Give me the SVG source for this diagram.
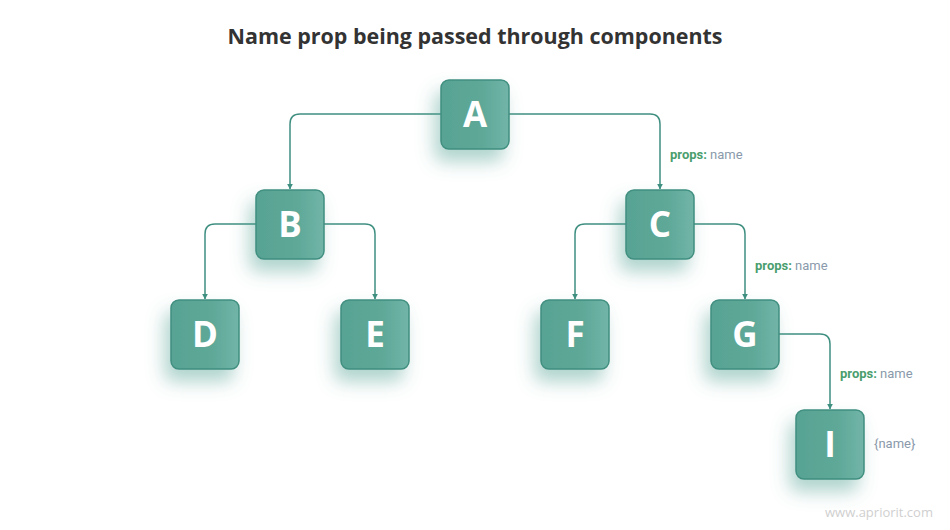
<svg xmlns="http://www.w3.org/2000/svg" width="950" height="530" viewBox="0 0 950 530">
<style>
.title{font-family:"Open Sans","DejaVu Sans",sans-serif;font-weight:700;font-size:21px;fill:#333333}
.box{fill:url(#g);stroke:#3f8f80;stroke-width:1.5;filter:url(#sh)}
.lt{font-family:"Open Sans","DejaVu Sans",sans-serif;font-weight:700;font-size:35px;fill:#ffffff;text-anchor:middle}
.conn{fill:none;stroke:#3f8f80;stroke-width:1.5;marker-end:url(#arr)}
.lab{font-family:"Roboto","DejaVu Sans",sans-serif;font-size:13px}
.p{fill:#4a9e6e;font-weight:700}
.n{fill:#8a9aab}
.wm{font-family:"Open Sans","DejaVu Sans",sans-serif;font-size:13px;fill:#cfcfcf}
</style>
<defs>
<linearGradient id="g" x1="0" y1="0" x2="1" y2="0">
<stop offset="0" stop-color="#58a393"/>
<stop offset="0.6" stop-color="#5ea898"/>
<stop offset="1" stop-color="#72b5a8"/>
</linearGradient>
<filter id="sh" x="-60%" y="-60%" width="220%" height="220%">
<feDropShadow dx="-6" dy="12" stdDeviation="9" flood-color="#4e9f8f" flood-opacity="0.45"/>
</filter>
<marker id="arr" viewBox="0 0 10 10" refX="9" refY="5" markerWidth="6" markerHeight="6" markerUnits="userSpaceOnUse" orient="auto">
<path d="M0,0 L10,5 L0,10 z" fill="#3f8f80"/>
</marker>
</defs>
<rect width="950" height="530" fill="#ffffff"/>
<text class="title" x="475" y="44" text-anchor="middle" textLength="495" lengthAdjust="spacingAndGlyphs">Name prop being passed through components</text>
<g id="connectors">
<path class="conn" d="M441,114 H300 Q290,114 290,124 V189"/>
<path class="conn" d="M509,114 H650 Q660,114 660,124 V189"/>
<path class="conn" d="M256,224 H215 Q205,224 205,234 V299"/>
<path class="conn" d="M324,224 H365 Q375,224 375,234 V299"/>
<path class="conn" d="M626,224 H585 Q575,224 575,234 V299"/>
<path class="conn" d="M694,224 H735 Q745,224 745,234 V299"/>
<path class="conn" d="M779,334 H820 Q830,334 830,344 V409"/>
</g>
<g id="labels">
<text class="lab p" x="670" y="159">props:</text>
<text class="lab n" x="710" y="159">name</text>
<text class="lab p" x="755" y="270">props:</text>
<text class="lab n" x="795" y="270">name</text>
<text class="lab p" x="840" y="378">props:</text>
<text class="lab n" x="880" y="378">name</text>
<text class="lab n" x="874" y="448">{name}</text>
</g>
<g id="A"><rect class="box" x="441" y="80" width="68" height="69" rx="8"/><text class="lt" x="475" y="127">A</text></g>
<g id="B"><rect class="box" x="256" y="190" width="68" height="69" rx="8"/><text class="lt" x="290" y="237">B</text></g>
<g id="C"><rect class="box" x="626" y="190" width="68" height="69" rx="8"/><text class="lt" x="660" y="237">C</text></g>
<g id="D"><rect class="box" x="171" y="300" width="68" height="69" rx="8"/><text class="lt" x="205" y="347">D</text></g>
<g id="E"><rect class="box" x="341" y="300" width="68" height="69" rx="8"/><text class="lt" x="375" y="347">E</text></g>
<g id="F"><rect class="box" x="541" y="300" width="68" height="69" rx="8"/><text class="lt" x="575" y="347">F</text></g>
<g id="G"><rect class="box" x="711" y="300" width="68" height="69" rx="8"/><text class="lt" x="745" y="347">G</text></g>
<g id="I"><rect class="box" x="796" y="410" width="68" height="69" rx="8"/><text class="lt" x="830" y="457">I</text></g>
<text class="wm" x="825" y="517">www.apriorit.com</text>
</svg>
